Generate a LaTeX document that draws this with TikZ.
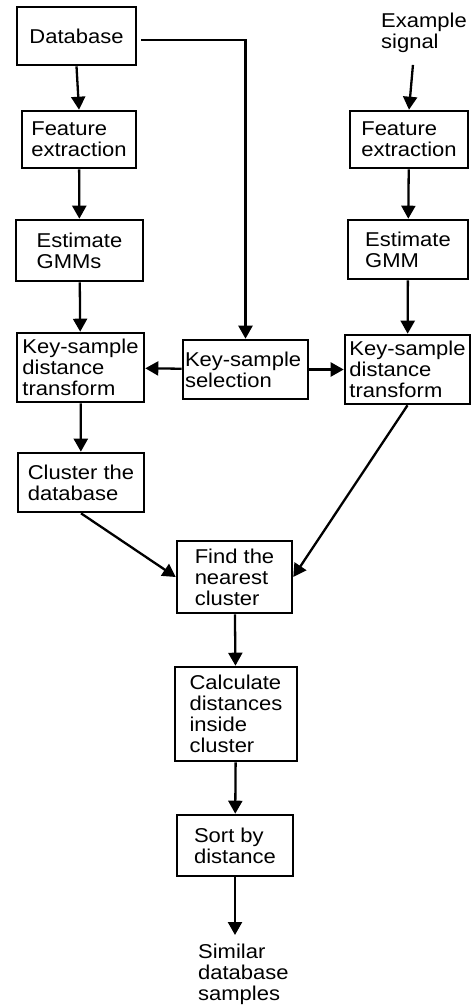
\documentclass[tikz,border=0pt]{standalone}
\usepackage{fontspec}
\newfontfamily\boxfont{Liberation Sans}[FakeStretch=1.1]
\usetikzlibrary{arrows.meta}
\tikzset{>={Triangle[length=13pt,width=14pt]}, % filled triangle heads
->, % every connector is directed
every node/.style={font=\boxfont\fontsize{20}{21}\selectfont, align=left}, % plain left-aligned text
every edge/.append style={line width=2.3pt}, % connectors as heavy as the boxes
block/.style={draw, line width=2.6pt, inner sep=0pt}, % a boxed processing step
}

\begin{document}
\begin{tikzpicture}[x=1pt, y=-1pt, line width=2.3pt]
\useasboundingbox (0,0) rectangle (471,1005);
% database branch
\node[block, minimum width=119pt, minimum height=58pt] (0) at (76.5,36) {Database};
\node[block, minimum width=114pt, minimum height=57pt] (2) at (79,139.5) {Feature\\extraction};
\node[block, minimum width=127pt, minimum height=61pt] (4) at (79.5,250.5) {Estimate\\GMMs};
\node[block, minimum width=127pt, minimum height=69pt] (6) at (80.5,367.5) {Key-sample\\distance\\transform};
\node[block, minimum width=126pt, minimum height=59pt] (9) at (81,482.5) {Cluster the\\database};
% example branch
\node[anchor=north west, inner sep=0pt] (1) at (380,12) {Example\\signal};
\node[block, minimum width=118pt, minimum height=57pt] (3) at (409,139.5) {Feature\\extraction};
\node[block, minimum width=120pt, minimum height=59pt] (5) at (408,249.5) {Estimate\\GMM};
\node[block, minimum width=125pt, minimum height=69pt] (8) at (407.5,369.5) {Key-sample\\distance\\transform};
% shared steps
\node[block, text width=121pt, inner xsep=2pt, minimum height=59pt] (7) at (245.5,369.5) {Key-sample\\selection};
\node[block, minimum width=115pt, minimum height=72pt] (10) at (234.5,577) {Find the\\nearest\\cluster};
\node[block, minimum width=122pt, minimum height=94pt] (11) at (236,714) {Calculate\\distances\\inside\\cluster};
\node[block, minimum width=116pt, minimum height=61pt] (12) at (235,845.5) {Sort by\\distance};
\node[anchor=north west, inner sep=0pt] (13) at (197,943) {Similar\\database\\samples};

\path (0.south) edge (2.north)
(2) edge (4)
(4) edge (6)
(6) edge (9)
([xshift=-11pt,yshift=-11pt]1.south) edge (3.north)
(3) edge (5)
(5) edge (8)
(7) edge (6)
(7) edge (8)
(9.south) edge (10.west)
(8.south) edge (10.east)
(10) edge (11)
(11) edge (12)
(12.south) edge ([yshift=8pt]12.south |- 13.north);
\draw ([shift={(4pt,-4pt)}]0.east) -| (7.north);
\end{tikzpicture}
\end{document}
